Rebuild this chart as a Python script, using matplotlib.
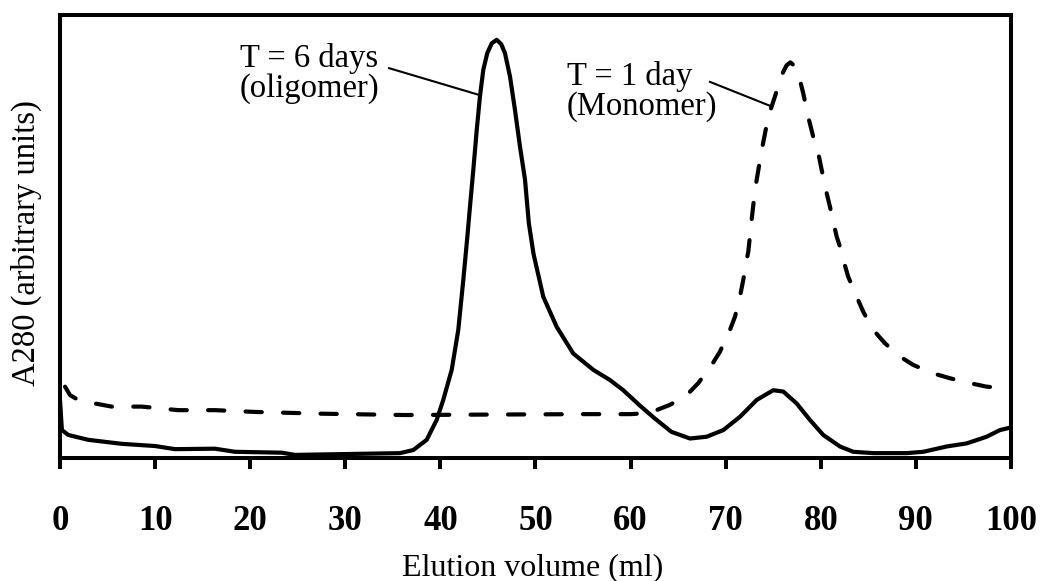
import matplotlib
matplotlib.use("Agg")
import matplotlib.pyplot as plt

# Elution volume (ml) and A280 (arbitrary units, 0-100 scale)
x_6days = [0, 0.2, 0.87, 2.98, 6.49, 9.99, 12.09, 16.3, 18.4, 23.31, 24.71, 30.28, 35.75,
           37.15, 38.56, 39.61, 40.30, 41.19, 41.88, 42.41, 42.85, 43.11, 43.46, 43.82,
           44.16, 44.51, 44.93, 45.4, 45.92, 46.4, 46.79, 47.32, 47.84, 48.37, 48.90, 49.3,
           49.8, 50.82, 52.23, 53.97, 56.08, 57.83, 59.23, 61.0, 62.5, 64.3, 66.25, 68.0,
           69.75, 71.5, 73.26, 75.0, 76.06, 77.47, 78.86, 80.26, 82.02, 83.42, 85.52,
           89.03, 90.78, 93.24, 95.35, 97.44, 98.84, 100]
y_6days = [13.0, 6.3, 5.2, 4.1, 3.2, 2.7, 2.0, 2.1, 1.4, 1.2, 0.7, 0.9, 1.1,
           1.8, 4.1, 8.6, 13.1, 19.9, 28.9, 40.2, 50.3, 56.7, 65.0, 74.0,
           81.6, 87.6, 91.4, 93.6, 94.4, 93.4, 91.4, 86.1, 78.6, 70.3, 62.8, 53.0,
           46.0, 36.4, 29.6, 23.6, 19.9, 17.6, 15.3, 11.8, 9.0, 5.9, 4.4, 4.8,
           6.3, 9.3, 13.1, 15.3, 15.0, 12.3, 8.6, 5.2, 2.6, 1.4, 1.1,
           1.1, 1.4, 2.6, 3.3, 4.8, 6.3, 6.9]

x_1day = [0.53, 1.05, 1.92, 3.68, 5.44, 8.59, 12.44, 16.3, 20.5, 27.52, 36.28, 45, 55, 60,
          61.5, 62.36, 64.14, 65.9, 67.12, 68.53, 69.4, 70.45, 70.98, 71.5, 71.85, 72.21,
          72.38, 72.73, 73.08, 73.79, 74.48, 75.18, 75.71, 76.06, 76.4, 76.8, 77.2, 77.81,
          78.16, 78.68, 79.21, 79.74, 80.1, 80.62, 80.97, 81.67, 82.02, 82.37, 82.89,
          83.78, 84.47, 85.52, 86.75, 88.33, 89.73, 91.83, 93.59, 95.69, 97.44, 99.55, 100]
y_1day = [16.1, 14.2, 13.1, 12.3, 11.6, 11.6, 10.8, 10.8, 10.4, 10.0, 9.7, 9.8, 9.9, 9.9,
          10.1, 10.5, 12.0, 14.2, 16.9, 21.0, 24.0, 28.9, 31.9, 36.4, 40.2, 44.7,
          46.6, 53.7, 60.5, 69.5, 77.0, 81.6, 85.3, 87.2, 88.6, 89.3, 88.6, 85.3,
          82.3, 77.0, 72.5, 68.8, 65.0, 59.8, 56.7, 50.0, 47.7, 44.7, 40.9,
          36.4, 33.0, 28.9, 25.9, 22.9, 21.0, 19.1, 18.0, 16.9, 16.1, 15.7, 15.6]

x_ticks = [0, 10, 20, 30, 40, 50, 60, 70, 80, 90, 100]

plt.rcParams['font.family'] = ['Liberation Serif', 'DejaVu Serif']

fig = plt.figure(figsize=(10.42, 5.81), dpi=100)
ax = fig.add_axes([0.0576, 0.2117, 0.9126, 0.7625])

ax.plot(x_6days, y_6days, color='black', lw=3.0, solid_joinstyle='round', solid_capstyle='round')
ax.plot(x_1day, y_1day, color='black', lw=3.0, linestyle=(0, (3.9, 5.1)),
        dash_capstyle='round', dash_joinstyle='round')

ax.set_xlim(0, 100)
ax.set_ylim(0, 100)
ax.set_xticks(x_ticks)
ax.set_xticklabels([str(t) for t in x_ticks], fontsize=25, fontweight='bold')
ax.set_yticks([])
ax.tick_params(axis='x', direction='out', length=8, width=2.9, pad=26)
for s in ax.spines.values():
    s.set_linewidth(2.9)

ax.set_xlabel('Elution volume (ml)', fontsize=23)
ax.xaxis.set_label_coords(0.497, -0.214)
ax.set_ylabel('A280 (arbitrary units)', fontsize=23.5)
ax.yaxis.set_label_coords(-0.019, 0.485)

ax.text(18.93, 81.5, 'T = 6 days\n(oligomer)', fontsize=23.5, ha='left', va='baseline',
        linespacing=0.97)
ax.plot([34.6, 44.16], [88.0, 81.9], color='black', lw=1.5)

ax.text(53.3, 77.4, 'T = 1 day\n(Monomer)', fontsize=23.5, ha='left', va='baseline',
        linespacing=0.97)
ax.plot([68.35, 74.66], [84.9, 79.5], color='black', lw=1.5)

fig.savefig('out.png', dpi=100)
